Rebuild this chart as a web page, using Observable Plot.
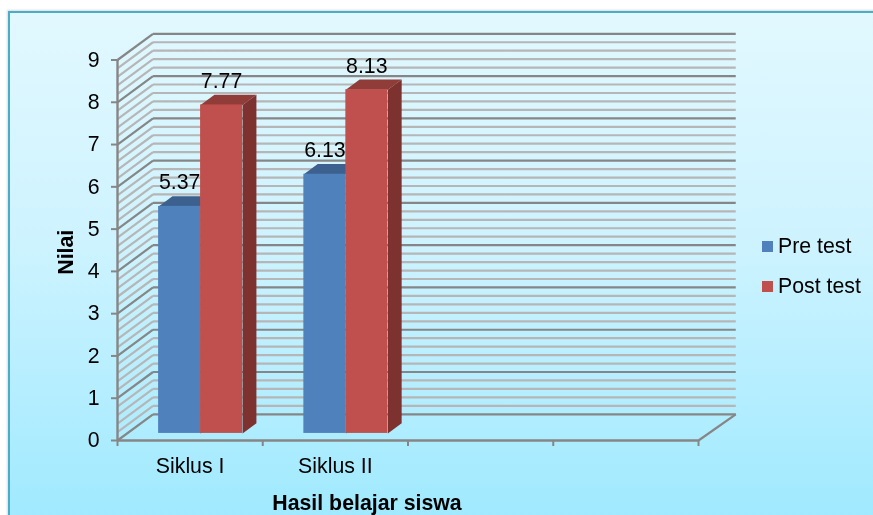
<!DOCTYPE html>
<html>
<head>
<meta charset="utf-8">
<script src="https://cdn.jsdelivr.net/npm/d3@7"></script>
<script src="https://cdn.jsdelivr.net/npm/@observablehq/plot@0.6"></script>
<style>
  html, body { margin: 0; padding: 0; background: #fff; overflow: hidden; }
  #stage { position: relative; width: 873px; height: 515px; overflow: hidden; font-family: "Liberation Sans", Arial, sans-serif; }
  #panel { position: absolute; left: 8px; top: 11px; width: 900px; height: 520px; box-sizing: border-box;
           border: 2px solid #4bacc6; background: linear-gradient(#e2f8ff 0%, #cdf3ff 45%, #9ee9ff 100%);
           box-shadow: -1px -1px 2px rgba(0,0,0,.15); }
  #chart { position: absolute; left: 0; top: 0; filter: blur(0.35px); }
  #chart svg { background: transparent !important; display: block; }
  #legend { position: absolute; left: 762px; top: 225.5px; font-size: 21.3px; color: #000; filter: blur(0.3px); }
  .item { display: flex; align-items: center; height: 40px; line-height: 28px; margin-top: 0; }
  .swatch { width: 11px; height: 11px; margin-right: 5px; margin-top: 1px; flex: none; }
</style>
</head>
<body>
<div id="stage">
  <div id="panel"></div>
  <div id="chart"></div>
  <div id="legend"></div>
</div>
<script>
const categories = ["Siklus I", "Siklus II"];
const preTest = [5.37, 6.13];
const postTest = [7.77, 8.13];
const seriesNames = ["Pre test", "Post test"];
const xTicks = [0, 1, 2, 3, 4];
const yTicks = [0, 1, 2, 3, 4, 5, 6, 7, 8, 9];
const minorTicks = d3.range(0, 45).map(i => i / 5).filter(v => v % 1 !== 0);
const xTitle = "Hasil belajar siswa";
const yTitle = "Nilai";

const colors = {
  pre: {front: "#4f81bd", top: "#3c618e", side: "#30506f"},
  post: {front: "#c0504d", top: "#903c39", side: "#7d3230"}
};
const axisGray = "#868686";
const minorGray = "#b6b6b6";
const fontSize = 21.3;

// oblique projection: depth d (0 = front of the floor, 1 = back wall) shifts a point in data units
const depthX = 0.2445, depthY = 0.62;
const backRight = 4.012;
const px = (c, d) => c + d * depthX;
const py = (v, d) => v + d * depthY;
const barFront = 0.27, barBack = 0.66;

const wall = (values) => values.flatMap(v => [
  {x1: px(0, 0), y1: py(v, 0), x2: px(0, 1), y2: py(v, 1)},
  {x1: px(0, 1), y1: py(v, 1), x2: px(backRight, 1), y2: py(v, 1)}
]);
const floorEdge = [{x1: px(4, 0), y1: py(0, 0), x2: px(backRight, 1), y2: py(0, 1)}];

const bars = [];
categories.forEach((category, i) => {
  bars.push({c: i, a: i + 0.217, b: i + 0.506, v: preTest[i], col: colors.pre, id: "pre" + i});
  bars.push({c: i, a: i + 0.506, b: i + 0.795, v: postTest[i], col: colors.post, id: "post" + i});
});
const polys = bars.flatMap(r => [
  {id: r.id + "t", fill: r.col.top, pts: [[r.a, r.v, barFront], [r.b, r.v, barFront], [r.b, r.v, barBack], [r.a, r.v, barBack]]},
  {id: r.id + "s", fill: r.col.side, pts: [[r.b, 0, barFront], [r.b, r.v, barFront], [r.b, r.v, barBack], [r.b, 0, barBack]]}
]).flatMap(p => p.pts.concat([p.pts[0]]).map(q => ({id: p.id, fill: p.fill, x: px(q[0], q[2]), y: py(q[1], q[2])})));

const chart = Plot.plot({
  width: 873,
  height: 515,
  marginLeft: 117,
  marginRight: 175,
  marginTop: 59.5,
  marginBottom: 75,
  style: {background: "transparent", fontFamily: "'Liberation Sans', Arial, sans-serif", color: "#000"},
  x: {domain: [0, 4], axis: null},
  y: {domain: [0, 9], axis: null},
  marks: [
    Plot.link(wall(minorTicks), {x1: "x1", y1: "y1", x2: "x2", y2: "y2", stroke: minorGray, strokeWidth: 2.2}),
    Plot.link(wall(yTicks), {x1: "x1", y1: "y1", x2: "x2", y2: "y2", stroke: axisGray, strokeWidth: 2.2}),
    Plot.link(floorEdge, {x1: "x1", y1: "y1", x2: "x2", y2: "y2", stroke: axisGray, strokeWidth: 2.2}),

    Plot.axisY({ticks: yTicks, tickSize: 6, tickPadding: 12, stroke: axisGray, strokeWidth: 2, fontSize, fill: "#000", label: null}),
    Plot.axisX({ticks: xTicks, tickSize: 6, stroke: axisGray, strokeWidth: 2, fill: "none", label: null}),
    Plot.axisX({ticks: categories.map((c, i) => i + 0.5), tickSize: 0, tickPadding: 17, fontSize, fill: "#000",
      tickFormat: d => categories[Math.floor(d)], label: null}),
    Plot.ruleX([0], {y1: 0, y2: 9, stroke: axisGray, strokeWidth: 2.4}),
    Plot.ruleY([0], {x1: 0, x2: 4, stroke: axisGray, strokeWidth: 2.4}),

    Plot.line(polys, {x: "x", y: "y", z: "id", fill: "fill", stroke: "none", curve: "linear"}),
    Plot.rect(bars, {
      x1: d => px(d.a, barFront), x2: d => px(d.b, barFront),
      y1: py(0, barFront), y2: d => py(d.v, barFront),
      fill: d => d.col.front, inset: 0
    }),
    Plot.text(bars, {
      x: d => px((d.a + d.b) / 2, barFront), y: d => py(d.v, barFront),
      text: d => d.v.toFixed(2), dy: -24, fontSize, fill: "#000"
    }),

    Plot.text([yTitle], {x: 0, y: 4.5, dx: -51, dy: 2, text: d => d, rotate: -90, fontSize, fontWeight: "bold", fill: "#000"}),
    Plot.text([xTitle], {x: 2, y: 0, dy: 63, dx: -41, text: d => d, fontSize, fontWeight: "bold", fill: "#000"})
  ]
});
document.getElementById("chart").appendChild(chart);

const legend = document.getElementById("legend");
seriesNames.forEach((name, i) => {
  const row = document.createElement("div");
  row.className = "item";
  const sw = document.createElement("span");
  sw.className = "swatch";
  sw.style.background = i === 0 ? colors.pre.front : colors.post.front;
  const label = document.createElement("span");
  label.textContent = name;
  row.append(sw, label);
  legend.append(row);
});
</script>
</body>
</html>
